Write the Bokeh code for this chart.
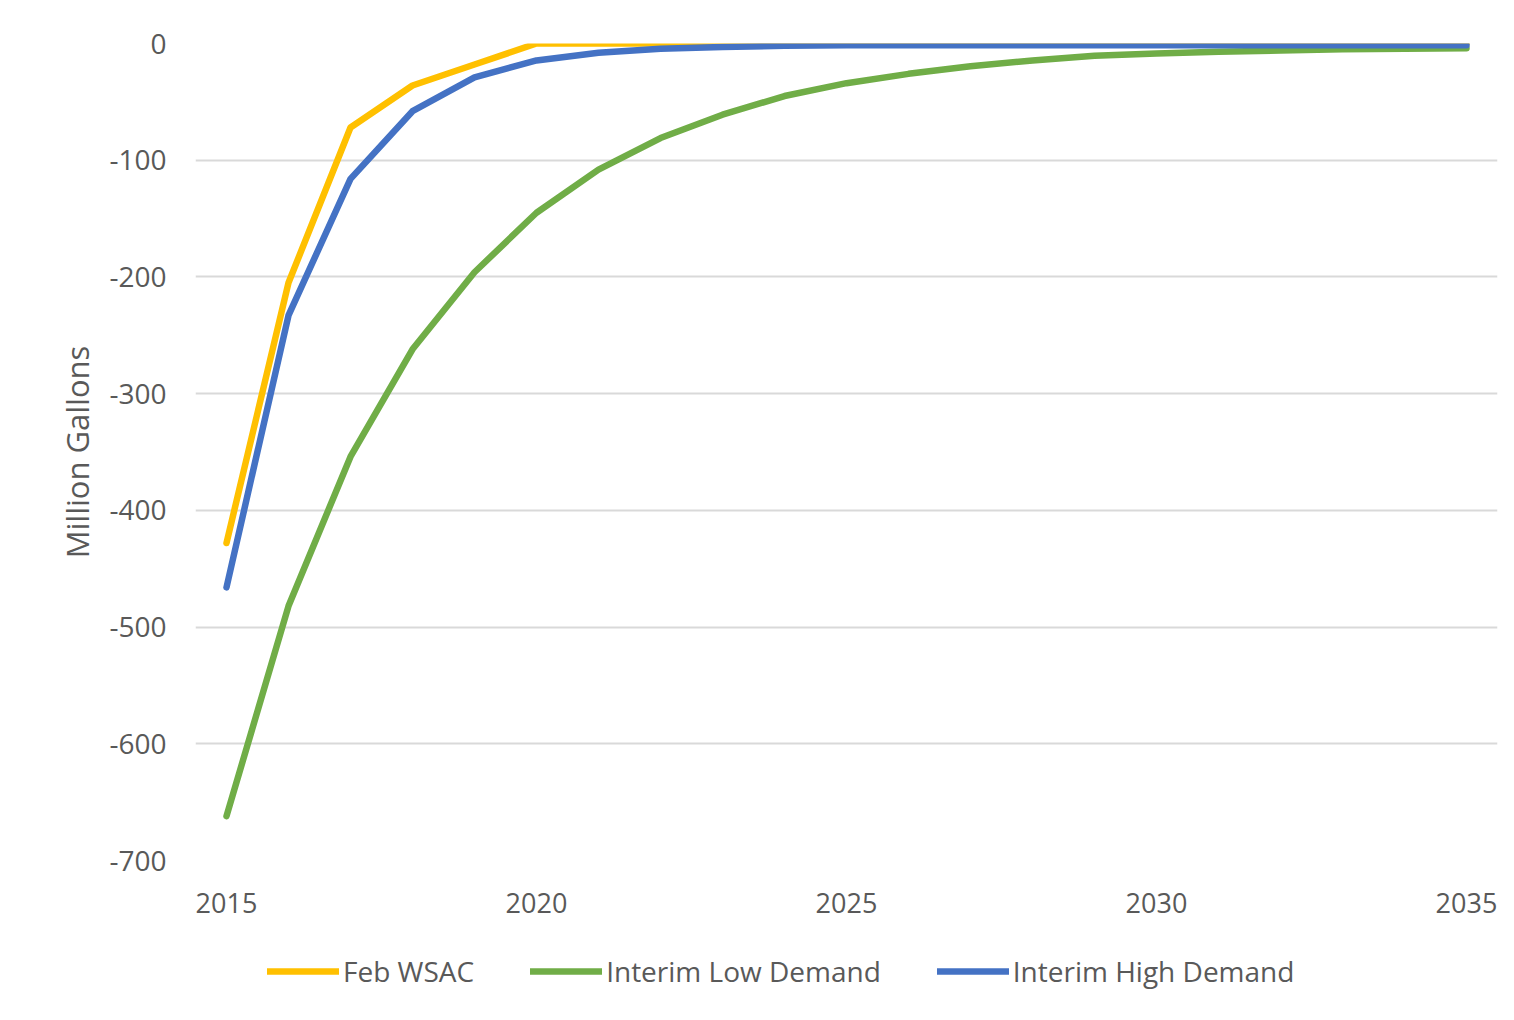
from bokeh.plotting import figure
from bokeh.models import Legend, LegendItem, FixedTicker, Range1d, PrintfTickFormatter
from bokeh.layouts import column
from bokeh.embed import file_html
from bokeh.resources import INLINE

years = list(range(2015, 2036))
feb_wsac = [-428, -205, -72, -36, -18, 0, 0, 0, 0, 0, 0,
            0, 0, 0, 0, 0, 0, 0, 0, 0, 0]
interim_low = [-662, -482, -354, -262, -196, -145, -108, -81, -61, -45, -34,
               -26, -19.5, -14.5, -10.5, -8.5, -7, -6, -5, -4.5, -4]
interim_high = [-466, -233, -116, -58, -29, -14.5, -8, -4.5, -3, -2, -1.5,
                -1.5, -1.5, -1.5, -1.5, -1.5, -1.5, -1.5, -1.5, -1.5, -1.5]
series_names = ["Feb WSAC", "Interim Low Demand", "Interim High Demand"]
colors = ["#FFC000", "#70AD47", "#4472C4"]
y_ticks = [-700, -600, -500, -400, -300, -200, -100, 0]
x_ticks = [2015, 2020, 2025, 2030, 2035]

FONT = "Open Sans"
TXT = "#595959"
LW = 6.5

p = figure(width=1506, height=940, output_backend="svg", toolbar_location=None,
           x_range=Range1d(2014.5, 2035.5), y_range=Range1d(-700, 0),
           min_border_left=195, min_border_right=9, min_border_top=43,
           min_border_bottom=80)
p.outline_line_color = None
p.background_fill_color = "white"
p.border_fill_color = "white"

for vals, c in zip([feb_wsac, interim_low, interim_high], colors):
    p.line(years, vals, line_color=c, line_width=LW,
           line_cap="round", line_join="round")

p.xgrid.grid_line_color = None
p.ygrid.grid_line_color = "#D9D9D9"
p.ygrid.grid_line_width = 2
p.yaxis.ticker = FixedTicker(ticks=y_ticks)
p.xaxis.ticker = FixedTicker(ticks=x_ticks)
p.yaxis.formatter = PrintfTickFormatter(format="%d")
p.xaxis.formatter = PrintfTickFormatter(format="%d")

for ax in [p.xaxis[0], p.yaxis[0]]:
    ax.axis_line_color = None
    ax.major_tick_line_color = None
    ax.minor_tick_line_color = None
    ax.major_label_text_font = FONT
    ax.major_label_text_color = TXT
    ax.major_label_text_font_size = "27px"

p.yaxis.major_label_text_font_size = "28px"
p.xaxis.major_label_standoff = 26
p.yaxis.major_label_standoff = 23
p.yaxis.axis_label = "Million Gallons"
p.yaxis.axis_label_text_font = FONT
p.yaxis.axis_label_text_font_style = "normal"
p.yaxis.axis_label_text_font_size = "31px"
p.yaxis.axis_label_text_color = TXT
p.yaxis.axis_label_standoff = 8

# legend strip below the chart
lg = figure(width=1506, height=72, output_backend="svg", toolbar_location=None,
            x_range=Range1d(0, 1), y_range=Range1d(0, 1),
            x_axis_location=None, y_axis_location=None,
            min_border=0)
lg.outline_line_color = None
lg.xgrid.grid_line_color = None
lg.ygrid.grid_line_color = None
lg.border_fill_color = "white"
lg_renderers = []
for c in colors:
    r = lg.line([float("nan")], [float("nan")], line_color=c, line_width=LW,
                line_cap="round")
    lg_renderers.append(r)

legend = Legend(items=[LegendItem(label=n, renderers=[r]) for n, r in zip(series_names, lg_renderers)],
                orientation="horizontal", location=(72, 22),
                label_text_font=FONT, label_text_font_size="28px",
                label_text_color=TXT, glyph_width=72, glyph_height=20,
                label_standoff=4, spacing=56, border_line_color=None,
                background_fill_alpha=0, margin=0, padding=6)
lg.add_layout(legend, "center")

layout = column(p, lg, spacing=0)
open("out.html", "w").write(file_html(layout, INLINE))
